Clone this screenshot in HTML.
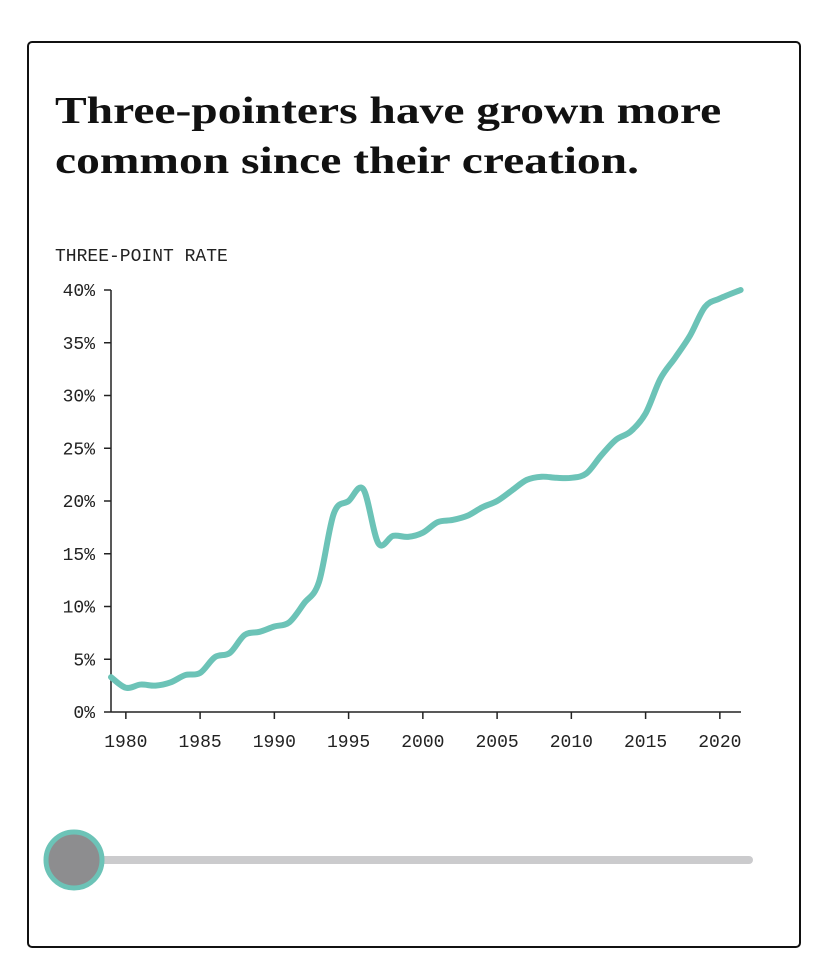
<!DOCTYPE html>
<html><head><meta charset="utf-8">
<style>
html,body{margin:0;padding:0;background:#fff;width:827px;height:960px;overflow:hidden}
#card{position:absolute;left:27px;top:41px;width:770px;height:903px;border:2.5px solid #111;border-radius:5px}
#title{position:absolute;left:55px;top:86px;margin:0;font-family:"Liberation Serif",serif;font-weight:bold;font-size:38px;line-height:50px;color:#111;transform:scaleX(1.25);transform-origin:0 0;white-space:nowrap}
svg{position:absolute;left:0;top:0}
.tk{font-family:"Liberation Mono","DejaVu Sans Mono",monospace;font-size:18px;fill:#222}
</style></head><body>
<div id="card"></div>
<h1 id="title">Three-pointers have grown more<br>common since their creation.</h1>
<svg id="chart" width="827" height="960">
<text x="55" y="261" class="tk">THREE-POINT RATE</text>
</svg>
<script>
const years=[1979,1980,1981,1982,1983,1984,1985,1986,1987,1988,1989,1990,1991,1992,1993,1994,1995,1996,1997,1998,1999,2000,2001,2002,2003,2004,2005,2006,2007,2008,2009,2010,2011,2012,2013,2014,2015,2016,2017,2018,2019,2020,2021.4];
const rates=[3.3,2.3,2.6,2.5,2.8,3.5,3.7,5.2,5.6,7.3,7.6,8.1,8.5,10.3,12.3,18.8,20.0,21.1,16.0,16.7,16.6,17.0,18.0,18.2,18.6,19.4,20.0,21.0,22.0,22.3,22.2,22.2,22.6,24.3,25.8,26.6,28.3,31.6,33.6,35.7,38.4,39.2,40.0];
const yTicks=[0,5,10,15,20,25,30,35,40];
const xTicks=[1980,1985,1990,1995,2000,2005,2010,2015,2020];
const svg=document.getElementById('chart');
const NS='http://www.w3.org/2000/svg';
const x=v=>111+(v-1979)*14.85;
const y=v=>712-v*10.55;
function mk(t,a){const e=document.createElementNS(NS,t);for(const k in a)e.setAttribute(k,a[k]);svg.appendChild(e);return e;}
let ax=mk('line',{x1:111,y1:y(40),x2:111,y2:712,stroke:'#222','stroke-width':1.5});


let bx=mk('line',{x1:111,y1:712,x2:741,y2:712,stroke:'#222','stroke-width':1.5});


yTicks.forEach(v=>{
 mk('line',{x1:104,x2:111,y1:y(v),y2:y(v),stroke:'#222','stroke-width':1.5});
 const t=mk('text',{x:95,y:y(v)+6,'text-anchor':'end',class:'tk'});t.textContent=v+'%';
 
 
});
xTicks.forEach(v=>{
 mk('line',{x1:x(v),x2:x(v),y1:712,y2:719,stroke:'#222','stroke-width':1.5});
 const t=mk('text',{x:x(v),y:747,'text-anchor':'middle',class:'tk'});t.textContent=v;
 
 
});
const P=years.map((yr,i)=>[x(yr),y(rates[i])]);
let d='M'+P[0][0]+','+P[0][1];
for(let i=0;i<P.length-1;i++){
 const p0=P[Math.max(i-1,0)],p1=P[i],p2=P[i+1],p3=P[Math.min(i+2,P.length-1)];
 const c1=[p1[0]+(p2[0]-p0[0])/6,p1[1]+(p2[1]-p0[1])/6];
 const c2=[p2[0]-(p3[0]-p1[0])/6,p2[1]-(p3[1]-p1[1])/6];
 d+=`C${c1[0]},${c1[1]} ${c2[0]},${c2[1]} ${p2[0]},${p2[1]}`;
}
const line=mk('path',{d:d,fill:'none',stroke:'#6cc3b7','stroke-width':6,'stroke-linecap':'round','stroke-linejoin':'round'});


const tr=mk('line',{x1:75,x2:749,y1:860,y2:860,stroke:'#cbcbcd','stroke-width':8,'stroke-linecap':'round'});


const kn=mk('circle',{cx:74,cy:860,r:28,fill:'#8d8d8f',stroke:'#6cc3b7','stroke-width':5});


</script>
</body></html>
